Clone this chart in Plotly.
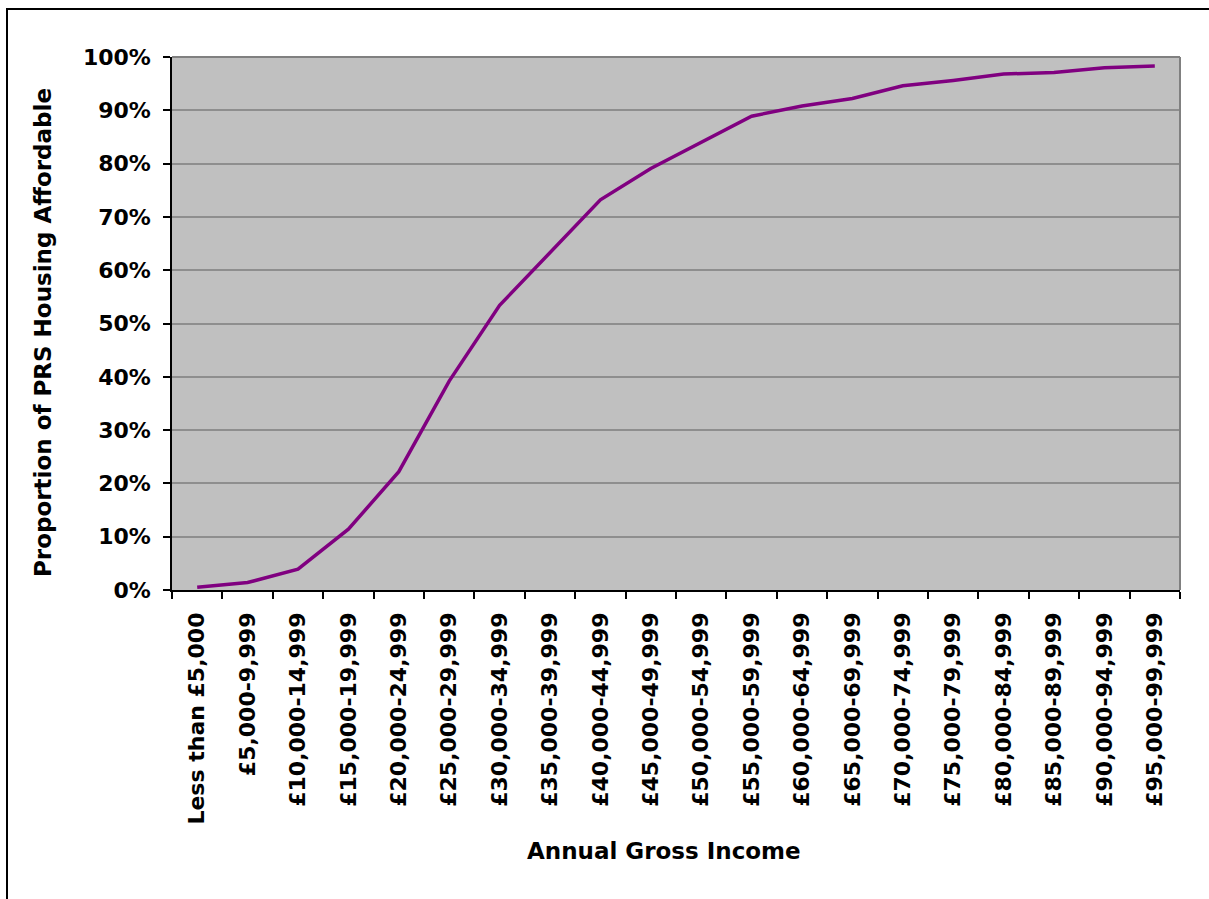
import plotly.graph_objects as go

# Income bands and share of private rented stock affordable at each band
income_bands = [
    "Less than £5,000", "£5,000-9,999", "£10,000-14,999", "£15,000-19,999",
    "£20,000-24,999", "£25,000-29,999", "£30,000-34,999", "£35,000-39,999",
    "£40,000-44,999", "£45,000-49,999", "£50,000-54,999", "£55,000-59,999",
    "£60,000-64,999", "£65,000-69,999", "£70,000-74,999", "£75,000-79,999",
    "£80,000-84,999", "£85,000-89,999", "£90,000-94,999", "£95,000-99,999",
]
affordable_share = [
    0.005, 0.014, 0.039, 0.114, 0.222, 0.392, 0.534, 0.634, 0.732, 0.791,
    0.840, 0.889, 0.908, 0.922, 0.946, 0.956, 0.968, 0.971, 0.980, 0.983,
]
y_ticks = [0, 0.1, 0.2, 0.3, 0.4, 0.5, 0.6, 0.7, 0.8, 0.9, 1.0]

W, H = 1209, 899
L, R, T, B = 172, 29, 57, 309
pw, ph = W - L - R, H - T - B

def px(x):
    return (x - L) / pw

def py(y):
    return (H - B - y) / ph

FONT = "DejaVu Sans"

fig = go.Figure()
fig.add_trace(go.Scatter(
    x=income_bands, y=affordable_share, mode="lines",
    line=dict(color="#800080", width=3.5), showlegend=False,
))

fig.update_layout(
    width=W, height=H,
    margin=dict(l=L, r=R, t=T, b=B, pad=0),
    paper_bgcolor="white", plot_bgcolor="#C0C0C0",
    font=dict(family=FONT, size=21, color="black", weight="bold"),
    xaxis=dict(
        type="category", range=[-0.5, len(income_bands) - 0.5],
        tickson="boundaries", ticks="outside", ticklen=7, tickwidth=1.5,
        tickcolor="black", showline=True, linecolor="black", linewidth=1.5,
        showgrid=False, tickangle=-90, ticklabelstandoff=12,
        tickfont=dict(family=FONT, size=22, weight="bold"),
        zeroline=False, fixedrange=True,
    ),
    yaxis=dict(
        range=[0, 1], tickvals=y_ticks, tickformat=".0%",
        ticks="outside", ticklen=7, tickwidth=1.5, tickcolor="black",
        showline=True, linecolor="black", linewidth=1.5,
        showgrid=True, gridcolor="#8E8E8E", gridwidth=1.5,
        ticklabelstandoff=8,
        tickfont=dict(family=FONT, size=22, weight="bold"),
        zeroline=False, fixedrange=True,
    ),
    shapes=[
        # plot area frame (top and right edges)
        dict(type="line", xref="paper", yref="paper", x0=0, x1=1, y0=1, y1=1,
             line=dict(color="#808080", width=2)),
        dict(type="line", xref="paper", yref="paper", x0=1, x1=1, y0=0, y1=1,
             line=dict(color="#808080", width=2)),
        # chart area border
        dict(type="rect", xref="paper", yref="paper",
             x0=px(7), x1=px(W + 5), y0=py(9), y1=py(H + 5),
             line=dict(color="black", width=2), layer="above"),
    ],
    annotations=[
        dict(text="Annual Gross Income", xref="paper", yref="paper",
             x=px(664), y=py(851), showarrow=False,
             xanchor="center", yanchor="middle",
             font=dict(family=FONT, size=23, weight="bold")),
        dict(text="Proportion of PRS Housing Affordable", xref="paper", yref="paper",
             x=px(43), y=py(333), showarrow=False, textangle=-90,
             xanchor="center", yanchor="middle",
             font=dict(family=FONT, size=23, weight="bold")),
    ],
)

fig.write_html("out.html")
